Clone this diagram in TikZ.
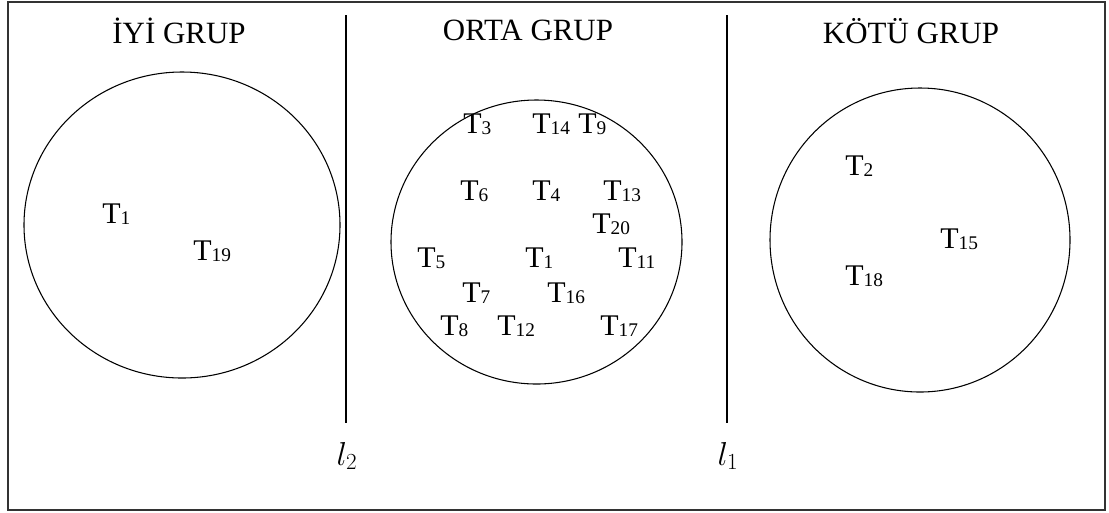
\documentclass[tikz,border=0pt]{standalone}
\usepackage{fontspec}
\setmainfont{Liberation Serif}
\newcommand\Tn[1]{T{\fontsize{14.5}{14.5}\selectfont\raisebox{-1pt}{#1}}}
\tikzset{
  lbl/.style={anchor=base west, inner sep=0pt, font=\fontsize{22.5}{22.5}\selectfont},
  ttl/.style={anchor=base, inner sep=0pt, font=\fontsize{23.2}{23.2}\selectfont},
  grp/.style={draw=black, line width=0.8pt},
  sep/.style={draw=black, line width=1.6pt},
  lin/.style={anchor=base, inner sep=0pt, font=\fontsize{27}{27}\selectfont},
}
\begin{document}
\begin{tikzpicture}[x=0.75pt,y=-0.75pt]
\useasboundingbox (0,0) rectangle (1109,512);
\draw[draw=black!80, line width=1.3pt] (8,2) rectangle (1105,510);
% circles
\draw[grp] (182,225) ellipse [x radius=158, y radius=153];
\draw[grp] (536.5,242) ellipse [x radius=145.5, y radius=142];
\draw[grp] (920,240) ellipse [x radius=150, y radius=152];
% separators
\coordinate (s2t) at (346,15); \coordinate (s2b) at (346,423);
\coordinate (s1t) at (727,15); \coordinate (s1b) at (727,423);
\draw[sep] (s2t) -- (s2b);
\draw[sep] (s1t) -- (s1b);
% titles
\node[ttl] (t1) at (179,43) {İYİ GRUP};
\node[ttl] (t2) at (528,40) {ORTA GRUP};
\node[ttl] (t3) at (911,43) {KÖTÜ GRUP};
% line labels
\node[lin] (l2) at (347,465) {$l_2$};
\node[lin] (l1) at (728,465) {$l_1$};
% left group
\node[lbl] (a1) at (102,223) {\Tn{1}};
\node[lbl] (a19) at (193,260) {\Tn{19}};
% middle group
\node[lbl] (m3) at (463,133) {\Tn{3}};
\node[lbl] (m14) at (532,133) {\Tn{14}};
\node[lbl] (m9) at (578,133) {\Tn{9}};
\node[lbl] (m6) at (460,200) {\Tn{6}};
\node[lbl] (m4) at (532,200) {\Tn{4}};
\node[lbl] (m13) at (603,200) {\Tn{13}};
\node[lbl] (m20) at (592,233) {\Tn{20}};
\node[lbl] (m5) at (417,267) {\Tn{5}};
\node[lbl] (m1) at (525,267) {\Tn{1}};
\node[lbl] (m11) at (618,267) {\Tn{11}};
\node[lbl] (m7) at (462,302) {\Tn{7}};
\node[lbl] (m16) at (547,302) {\Tn{16}};
\node[lbl] (m8) at (440,335) {\Tn{8}};
\node[lbl] (m12) at (497,335) {\Tn{12}};
\node[lbl] (m17) at (600,335) {\Tn{17}};
% right group
\node[lbl] (r2) at (845,175) {\Tn{2}};
\node[lbl] (r15) at (940,248) {\Tn{15}};
\node[lbl] (r18) at (845,285) {\Tn{18}};
\end{tikzpicture}
\end{document}
